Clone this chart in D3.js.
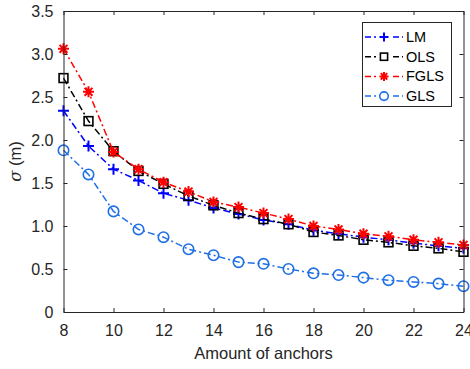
<!DOCTYPE html>
<html>
<head>
<meta charset="utf-8">
<script src="https://cdn.jsdelivr.net/npm/d3@7"></script>
<style>
  body { margin: 0; background: #fff; }
  svg text { font-family: "Liberation Sans", Arial, sans-serif; }
</style>
</head>
<body>
<div id="chart"></div>
<script>
// anchors on the x axis
const anchors = [8, 9, 10, 11, 12, 13, 14, 15, 16, 17, 18, 19, 20, 21, 22, 23, 24];

// sigma values (m)
const lmVals   = [2.34, 1.93, 1.66, 1.53, 1.38, 1.30, 1.21, 1.14, 1.07, 1.02, 0.95, 0.91, 0.87, 0.84, 0.80, 0.77, 0.74];
const olsVals  = [2.72, 2.22, 1.87, 1.64, 1.49, 1.35, 1.24, 1.15, 1.08, 1.02, 0.93, 0.89, 0.84, 0.81, 0.77, 0.74, 0.70];
const fglsVals = [3.06, 2.56, 1.86, 1.66, 1.51, 1.40, 1.28, 1.22, 1.15, 1.08, 1.00, 0.96, 0.91, 0.88, 0.84, 0.81, 0.78];
const glsVals  = [1.88, 1.60, 1.17, 0.96, 0.87, 0.73, 0.66, 0.58, 0.56, 0.50, 0.45, 0.43, 0.40, 0.37, 0.35, 0.33, 0.30];

const seriesNames = ["LM", "OLS", "FGLS", "GLS"];
const seriesColors = ["#0000ff", "#000000", "#ff0000", "#1f6fe6"];
const seriesMarkers = ["plus", "square", "star", "circle"];
const seriesVals = [lmVals, olsVals, fglsVals, glsVals];

const xTicks = [8, 10, 12, 14, 16, 18, 20, 22, 24];
const yTicks = [0, 0.5, 1.0, 1.5, 2.0, 2.5, 3.0, 3.5];

const width = 470, height = 369;
const margin = {top: 11, right: 6.5, bottom: 57, left: 63.5};
const w = width - margin.left - margin.right;
const h = height - margin.top - margin.bottom;
const axisColor = "#262626";

const svg = d3.select("#chart").append("svg")
    .attr("width", width)
    .attr("height", height);

const g = svg.append("g")
    .attr("transform", `translate(${margin.left},${margin.top})`);

const xScale = d3.scaleLinear().domain([8, 24]).range([0, w]);
const yScale = d3.scaleLinear().domain([0, 3.5]).range([h, 0]);

// marker drawing
function drawMarker(sel, type, color, s) {
    if (type === "plus") {
        sel.append("path")
            .attr("d", `M${-s},0H${s}M0,${-s}V${s}`)
            .attr("stroke", color).attr("stroke-width", 2).attr("fill", "none");
    } else if (type === "square") {
        sel.append("rect")
            .attr("x", -s * 0.8).attr("y", -s * 0.8)
            .attr("width", s * 1.6).attr("height", s * 1.6)
            .attr("stroke", color).attr("stroke-width", 1.6).attr("fill", "none");
    } else if (type === "star") {
        let d = `M${-s},0H${s}M0,${-s}V${s}`;
        const k = s * 0.72;
        d += `M${-k},${-k}L${k},${k}M${-k},${k}L${k},${-k}`;
        sel.append("path")
            .attr("d", d)
            .attr("stroke", color).attr("stroke-width", 2).attr("fill", "none");
    } else if (type === "circle") {
        sel.append("circle")
            .attr("r", s * 0.95)
            .attr("stroke", color).attr("stroke-width", 1.6).attr("fill", "none");
    }
}

// lines + markers
seriesVals.forEach((vals, i) => {
    const data = anchors.map((a, j) => [a, vals[j]]);
    g.append("path")
        .datum(data)
        .attr("fill", "none")
        .attr("stroke", seriesColors[i])
        .attr("stroke-width", 1.5)
        .attr("stroke-dasharray", "7,3,2,3")
        .attr("d", d3.line()
            .x(d => xScale(d[0]))
            .y(d => yScale(d[1])));

    data.forEach(d => {
        const m = g.append("g")
            .attr("transform", `translate(${xScale(d[0])},${yScale(d[1])})`);
        drawMarker(m, seriesMarkers[i], seriesColors[i], 5.5);
    });
});

// axes box with inward ticks on all sides
const xAxis = g.append("g")
    .attr("transform", `translate(0,${h})`)
    .call(d3.axisBottom(xScale).tickValues(xTicks).tickSizeInner(-4).tickSizeOuter(0).tickPadding(10));
const yAxis = g.append("g")
    .call(d3.axisLeft(yScale).tickValues(yTicks).tickSizeInner(-4).tickSizeOuter(0).tickPadding(10)
        .tickFormat(d => d === 0 ? "0" : d3.format(".1f")(d)));
const xTop = g.append("g")
    .call(d3.axisTop(xScale).tickValues(xTicks).tickSizeInner(-4).tickSizeOuter(0).tickFormat(""));
const yRight = g.append("g")
    .attr("transform", `translate(${w},0)`)
    .call(d3.axisRight(yScale).tickValues(yTicks).tickSizeInner(-4).tickSizeOuter(0).tickFormat(""));

[xAxis, yAxis, xTop, yRight].forEach(a => {
    a.select(".domain").attr("stroke", axisColor).attr("stroke-width", 1);
    a.selectAll(".tick line").attr("stroke", axisColor).attr("stroke-width", 1);
    a.selectAll("text").attr("fill", axisColor).attr("font-size", 16)
        .attr("font-family", "Liberation Sans, Arial, sans-serif");
});
xAxis.selectAll("text").attr("dy", "0.9em");

// axis labels
svg.append("text")
    .attr("x", margin.left + w / 2)
    .attr("y", 359)
    .attr("text-anchor", "middle")
    .attr("font-size", 16.5)
    .attr("fill", axisColor)
    .text("Amount of anchors");

const yl = svg.append("text")
    .attr("transform", `translate(21,${margin.top + h / 2}) rotate(-90)`)
    .attr("text-anchor", "middle")
    .attr("font-size", 16.5)
    .attr("fill", axisColor);
yl.append("tspan").attr("font-style", "italic").attr("font-family", "DejaVu Serif, serif").text("σ");
yl.append("tspan").text(" (m)");

// legend
const legend = svg.append("g");
legend.append("rect")
    .attr("x", 362.5).attr("y", 22.5)
    .attr("width", 89).attr("height", 84)
    .attr("fill", "#fff")
    .attr("stroke", axisColor)
    .attr("stroke-width", 1);

seriesNames.forEach((name, i) => {
    const y = 37 + i * 19.7;
    legend.append("line")
        .attr("x1", 365).attr("x2", 403)
        .attr("y1", y).attr("y2", y)
        .attr("stroke", seriesColors[i])
        .attr("stroke-width", 1.5)
        .attr("stroke-dasharray", "6,3,2,3");
    const m = legend.append("g").attr("transform", `translate(384,${y})`);
    m.append("rect").attr("x", -6).attr("y", -6).attr("width", 12).attr("height", 12).attr("fill", "#fff");
    drawMarker(m, seriesMarkers[i], seriesColors[i], 4.5);
    legend.append("text")
        .attr("x", 406)
        .attr("y", y)
        .attr("dy", "0.35em")
        .attr("font-size", 14.5)
        .attr("fill", "#000")
        .text(name);
});
</script>
</body>
</html>
